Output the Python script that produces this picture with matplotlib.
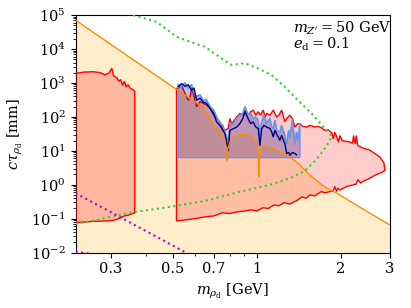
import matplotlib
matplotlib.use('Agg')
import matplotlib.pyplot as plt
import numpy as np

plt.rcParams['font.family'] = 'DejaVu Serif'
plt.rcParams['mathtext.fontset'] = 'dejavuserif'
plt.rcParams['font.size'] = 10.5

# values, y given as log10(c tau / mm)
orange_x = [0.224, 0.5, 0.641, 0.695, 0.737, 0.768, 0.776, 0.78, 0.785, 0.814, 0.869,
            0.944, 1.0, 1.012, 1.017, 1.022, 1.042, 1.144, 1.313, 1.426, 1.55, 1.75,
            1.935, 2.336, 3.0]
orange_ly = [4.85, 2.88, 2.29, 1.81, 1.55, 1.31, 1.0, 0.72, 1.05, 1.4, 1.49,
             1.46, 1.26, 0.9, 0.23, 0.9, 1.16, 1.07, 0.82, 0.58, 0.28, -0.07,
             -0.25, -0.66, -1.19]

red1_top_x = [0.224, 0.24, 0.26, 0.275, 0.285, 0.295, 0.302, 0.306, 0.315, 0.32,
              0.325, 0.33, 0.335, 0.34, 0.345, 0.352, 0.36, 0.365]
red1_top_ly = [3.28, 3.32, 3.33, 3.30, 3.24, 3.29, 3.43, 3.22, 3.15, 3.05,
               3.10, 2.93, 3.05, 2.88, 2.95, 2.84, 2.80, 2.74]
red1_bot_x = [0.365, 0.355, 0.345, 0.335, 0.325, 0.315, 0.302, 0.26, 0.224]
red1_bot_ly = [-0.83, -0.86, -0.90, -0.92, -0.97, -1.02, -1.06, -1.08, -1.12]

red2_top_x = [0.515, 0.522, 0.537, 0.552, 0.567, 0.575, 0.583, 0.591, 0.608, 0.625,
              0.641, 0.66, 0.679, 0.70, 0.717, 0.737, 0.755, 0.768, 0.789, 0.80,
              0.812, 0.822, 0.846, 0.869, 0.89, 0.906, 0.931, 0.95, 0.97, 0.99,
              1.011, 1.03, 1.053, 1.07, 1.083, 1.113, 1.144, 1.16, 1.176, 1.20,
              1.226, 1.24, 1.26, 1.278, 1.313, 1.34, 1.368, 1.40, 1.426, 1.46,
              1.507, 1.55, 1.614, 1.66, 1.71, 1.75, 1.80, 1.857, 1.88, 1.90,
              1.935, 1.96, 1.984, 2.02, 2.149, 2.20, 2.22, 2.25, 2.27, 2.30,
              2.40, 2.537, 2.757, 2.85, 2.877]
red2_top_ly = [2.84, 2.84, 2.94, 2.69, 2.49, 2.55, 2.84, 2.70, 2.30, 2.45,
               2.40, 2.35, 2.25, 2.05, 1.95, 1.85, 1.61, 1.60, 1.66, 1.95,
               1.80, 1.85, 2.00, 2.10, 2.05, 2.25, 2.05, 2.15, 2.20, 2.05,
               2.15, 2.05, 2.20, 2.00, 2.10, 2.05, 2.20, 2.10, 2.00, 2.05,
               2.20, 2.05, 1.85, 1.95, 2.05, 1.95, 1.70, 1.80, 1.80, 1.72,
               1.70, 1.75, 1.70, 1.72, 1.67, 1.60, 1.62, 1.52, 1.35, 1.55,
               1.40, 1.25, 1.45, 1.30, 1.26, 1.22, 1.45, 1.20, 1.45, 1.15,
               1.08, 1.02, 0.82, 0.65, 0.43]
red2_bot_x = [2.877, 2.83, 2.65, 2.537, 2.40, 2.35, 2.30, 2.27, 2.207, 2.10,
              1.984, 1.95, 1.93, 1.90, 1.88, 1.857, 1.75, 1.70, 1.614, 1.55,
              1.50, 1.45, 1.40, 1.313, 1.25, 1.20, 1.15, 1.10, 1.05, 1.0,
              0.95, 0.90, 0.85, 0.80, 0.75, 0.70, 0.65, 0.60, 0.55, 0.515]
red2_bot_ly = [0.43, 0.38, 0.28, 0.19, 0.10, 0.05, 0.15, 0.02, -0.01, -0.05,
               -0.16, -0.10, -0.20, -0.05, -0.18, -0.19, -0.24, -0.20, -0.33, -0.30,
               -0.40, -0.36, -0.45, -0.57, -0.53, -0.62, -0.60, -0.70, -0.68, -0.77,
               -0.74, -0.78, -0.80, -0.85, -0.83, -0.92, -0.95, -1.00, -1.04, -1.07]

blue_x = [0.522, 0.537, 0.552, 0.567, 0.583, 0.595, 0.608, 0.625, 0.641, 0.66,
          0.679, 0.70, 0.717, 0.737, 0.755, 0.768, 0.779, 0.789, 0.80, 0.822,
          0.846, 0.869, 0.89, 0.906, 0.93, 0.95, 0.97, 0.99, 1.011, 1.025,
          1.04, 1.06, 1.083, 1.113, 1.13, 1.144, 1.16, 1.176, 1.209, 1.226,
          1.26, 1.278, 1.30, 1.313, 1.34, 1.368, 1.387]
navy_ly = [2.89, 2.98, 2.90, 2.95, 2.79, 2.85, 2.49, 2.55, 2.44, 2.40,
           2.25, 2.10, 1.85, 1.75, 1.61, 1.50, 1.26, 1.00, 1.60, 1.65,
           1.70, 1.80, 1.95, 2.15, 1.95, 1.80, 1.85, 1.70, 1.66, 1.16,
           1.65, 1.75, 1.70, 1.66, 1.55, 1.41, 1.60, 1.50, 1.31, 1.45,
           1.20, 0.92, 0.95, 0.87, 0.95, 0.92, 0.88]
light_x = blue_x + [1.406, 1.426]
light_ly = [2.95, 2.90, 3.00, 2.85, 2.95, 2.70, 2.60, 2.65, 2.50, 2.50,
            2.30, 2.20, 2.00, 1.80, 1.75, 1.55, 1.40, 1.30, 1.75, 1.80,
            1.95, 2.05, 2.10, 2.30, 2.05, 2.10, 1.95, 2.00, 1.90, 1.40,
            1.85, 2.05, 1.80, 1.95, 1.70, 1.65, 1.90, 1.60, 1.55, 1.75,
            1.45, 1.20, 1.60, 1.40, 1.90, 1.20, 1.55, 1.30, 1.80]
blue_floor_ly = 0.80

green_x = [0.36, 0.437, 0.515, 0.625, 0.651, 0.747, 0.811, 0.906, 1.008, 1.129,
           1.26, 1.403, 1.57, 1.752, 1.86, 1.78, 1.682, 1.614, 1.486, 1.331,
           1.129, 0.855, 0.651, 0.475, 0.359, 0.273, 0.229, 0.224]
green_ly = [5.0, 4.80, 4.36, 4.11, 4.07, 3.72, 3.53, 3.58, 3.43, 3.23,
            2.88, 2.49, 2.10, 1.66, 1.42, 1.15, 0.87, 0.70, 0.41, 0.21,
            0.01, -0.22, -0.48, -0.67, -0.81, -1.02, -1.14, -1.15]

magenta_x = [0.224, 0.556]
magenta_ly = [-0.25, -2.0]
magenta2_x = [0.224, 0.26]
magenta2_ly = [-1.97, -2.05]

labels_x = [0.3, 0.5, 0.7, 1, 2, 3]


def p10(v):
    return np.power(10.0, np.asarray(v, dtype=float))


fig, ax = plt.subplots(figsize=(4.11, 3.08), dpi=100)
fig.subplots_adjust(left=0.184, right=0.949, top=0.951, bottom=0.180)

ax.set_xscale('log')
ax.set_yscale('log')

# orange band
ax.fill_between(orange_x, p10(orange_ly), 1e-3, color='orange', alpha=0.2, lw=0)
ax.plot(orange_x, p10(orange_ly), color='darkorange', lw=1, zorder=6.5)

# red regions
r1x = red1_top_x + red1_bot_x
r1y = p10(red1_top_ly + red1_bot_ly)
ax.fill(r1x, r1y, facecolor=(1, 0, 0, 0.22), edgecolor='red', lw=1, zorder=3)
r2x = red2_top_x + red2_bot_x
r2y = p10(red2_top_ly + red2_bot_ly)
ax.fill(r2x, r2y, facecolor=(1, 0, 0, 0.2), edgecolor='red', lw=1, zorder=3)

# blue region
bx = light_x + [light_x[-1], light_x[0]]
by = np.concatenate([p10(light_ly), p10([blue_floor_ly, blue_floor_ly])])
ax.fill(bx, by, facecolor=(0, 0, 0.5, 0.25), edgecolor='cornflowerblue', lw=1, zorder=5)
ax.plot(light_x, p10(light_ly), color='cornflowerblue', lw=1, zorder=5)
ax.plot(blue_x, p10(navy_ly), color='navy', lw=1, zorder=6)

# dotted lines
ax.plot(green_x, p10(green_ly), color='limegreen', ls=':', lw=1.5, zorder=7)
ax.plot(magenta_x, p10(magenta_ly), color='m', ls=':', lw=1.5, zorder=7)
ax.plot(magenta2_x, p10(magenta2_ly), color='m', ls=':', lw=1.5, zorder=7)

ax.set_xlim(0.224, 3)
ax.set_ylim(1e-2, 1e5)
ax.set_xticks(labels_x)
ax.set_xticklabels([str(v) for v in labels_x])
ax.set_xticks([0.4, 0.6, 0.8, 0.9], minor=True)
ax.set_xticklabels([], minor=True)

ax.set_xlabel(r'$m_{\rho_\mathrm{d}}$ [GeV]')
ax.set_ylabel(r'$c\tau_{\rho_\mathrm{d}}$ [mm]')

ax.text(0.69, 0.945, r"$m_{Z'} = 50$ GeV", transform=ax.transAxes, va='center')
ax.text(0.69, 0.878, r"$e_\mathrm{d} = 0.1$", transform=ax.transAxes, va='center')

fig.savefig('out.png', dpi=100)
